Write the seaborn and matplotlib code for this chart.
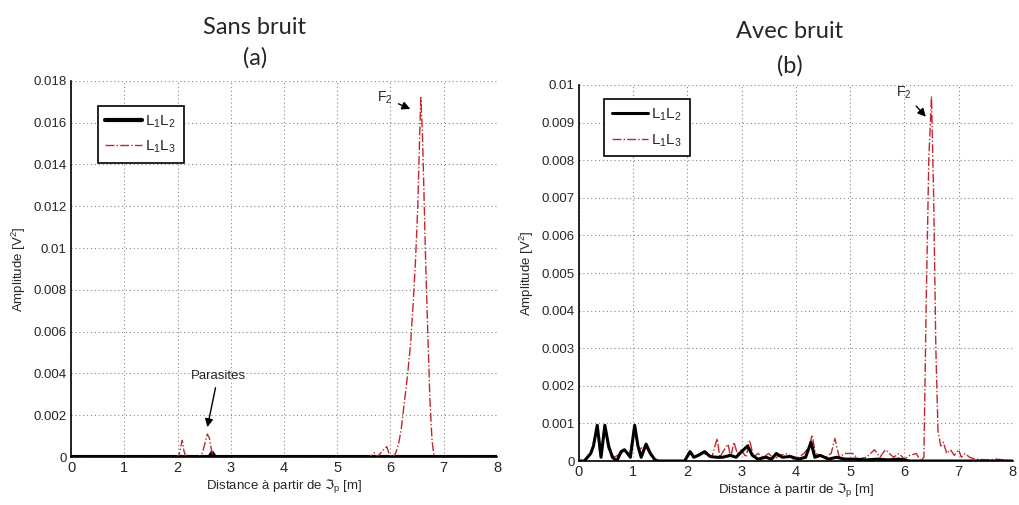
import numpy as np
import pandas as pd
import matplotlib
matplotlib.use("Agg")
import matplotlib.pyplot as plt
import seaborn as sns

# ---- (a) sans bruit ----
xa_12 = [0.0, 1.0, 2.0, 2.6, 2.65, 2.7, 3.0, 4.0, 5.0, 6.0, 7.0, 8.0]
ya_12 = [0.0, 0.0, 0.0, 0.0, 0.0002, 0.0, 0.0, 0.0, 0.0, 0.0, 0.0, 0.0]

xa_13 = [0.0, 1.0, 2.0, 2.03, 2.06, 2.09, 2.12, 2.16, 2.4, 2.47, 2.52, 2.56, 2.6,
         2.64, 2.68, 3.0, 4.0, 5.0, 5.6, 5.7, 5.75, 5.85, 5.93, 5.98, 6.05,
         6.1, 6.15, 6.2, 6.26, 6.32, 6.38, 6.43, 6.47, 6.51, 6.55, 6.57, 6.6,
         6.63, 6.66, 6.7, 6.74, 6.78, 6.82, 7.0, 7.5, 8.0]
ya_13 = [0.0, 0.0, 0.0, 0.0001, 0.0005, 0.0008, 0.0003, 0.0, 0.0, 0.0002, 0.0007, 0.0011,
         0.0009, 0.0003, 0.0, 0.0, 0.0, 0.0, 0.0, 0.0002, 0.0, 0.0003, 0.0005, 0.0001, 0.0,
         0.0002, 0.0006, 0.0013, 0.0026, 0.0039, 0.0055, 0.0075, 0.0094, 0.0118, 0.0155, 0.0172,
         0.0155, 0.0125, 0.0094, 0.006, 0.0028, 0.0008, 0.0, 0.0, 0.0, 0.0]

# ---- (b) avec bruit ----
xb_12 = [0.0, 0.1, 0.22, 0.27, 0.34, 0.41, 0.48, 0.55, 0.62, 0.7, 0.78, 0.84, 0.9, 0.95,
         1.03, 1.09, 1.15, 1.24, 1.32, 1.42, 1.6, 1.95, 2.05, 2.12, 2.2, 2.32, 2.42,
         2.54, 2.65, 2.79, 2.9, 3.0, 3.11, 3.2, 3.3, 3.45, 3.55, 3.64, 3.75, 3.9, 4.05,
         4.18, 4.28, 4.35, 4.45, 4.6, 4.75, 4.9, 5.1, 5.3, 5.5, 5.7, 5.9, 6.1, 6.4,
         6.6, 7.0, 7.5, 8.0]
yb_12 = [0.0, 0.0, 0.0002, 0.0004, 0.00095, 0.0001, 0.00095, 0.0004, 0.0001, 0.0,
         0.00025, 0.0003, 0.0002, 0.0001, 0.00095, 0.0004, 0.0001, 0.00045, 0.0002, 0.0,
         0.0, 0.0, 0.00025, 0.0001, 0.00015, 0.00025, 0.00012, 0.0001, 0.0001, 0.00015,
         0.0001, 0.00025, 0.0004, 0.00015, 0.00005, 0.0001, 0.00005, 0.0002, 0.0001,
         0.00012, 0.00005, 0.0001, 0.0005, 0.0001, 0.00015, 0.00005, 0.0001, 0.00005,
         0.00005, 0.00003, 0.00005, 0.00003, 0.00005, 0.0, 0.0, 0.0, 0.0, 0.0, 0.0]

xb_13 = [0.0, 0.1, 0.22, 0.28, 0.33, 0.4, 0.47, 0.55, 0.65, 0.78, 0.85, 0.93, 1.02,
         1.1, 1.22, 1.35, 1.5, 1.95, 2.05, 2.15, 2.3, 2.45, 2.55, 2.6, 2.68, 2.75,
         2.8, 2.86, 2.92, 3.0, 3.08, 3.15, 3.22, 3.3, 3.4, 3.5, 3.6, 3.7, 3.85, 3.95,
         4.05, 4.15, 4.25, 4.3, 4.36, 4.45, 4.55, 4.65, 4.72, 4.8, 4.9, 5.05, 5.15,
         5.3, 5.45, 5.55, 5.65, 5.8, 5.9, 6.0, 6.1, 6.22, 6.3, 6.36, 6.4, 6.45, 6.5,
         6.54, 6.58, 6.62, 6.67, 6.72, 6.78, 6.85, 6.92, 7.0, 7.05, 7.12, 7.2, 7.3,
         7.5, 7.7, 8.0]
yb_13 = [0.0, 0.0, 0.0002, 0.0005, 0.0009, 0.0001, 0.0009, 0.0003, 0.0001, 0.0002,
         0.0003, 0.0001, 0.0009, 0.0003, 0.0004, 0.0001, 0.0, 0.0, 0.0002, 0.0001,
         0.0002, 0.0001, 0.0006, 0.0001, 0.0003, 0.00045, 0.0001, 0.0005, 0.0002,
         0.0003, 0.0001, 0.00055, 0.0001, 0.0002, 0.0001, 0.0002, 0.00005, 0.00015,
         0.0002, 0.00005, 0.0001, 0.0002, 0.0004, 0.0007, 0.0002, 0.00015, 0.0001,
         0.0002, 0.0006, 0.0001, 0.0002, 0.0002, 0.00005, 0.0001, 0.0003, 0.0001,
         0.0003, 0.0001, 0.0002, 0.00005, 0.00015, 0.0002, 0.0, 0.0001, 0.004, 0.008,
         0.0097, 0.007, 0.003, 0.0008, 0.0004, 0.0005, 0.0002, 0.0003, 0.00015, 0.0003,
         0.0001, 0.0002, 0.0001, 0.00005, 0.00003, 0.00005, 0.0]

label_12 = r"$\mathregular{L_1L_2}$"
label_13 = r"$\mathregular{L_1L_3}$"
xlabel = r"Distance à partir de $\Im_{\mathregular{p}}$ [m]"
ylabel = r"Amplitude [V$^2$]"

sns.set_style("white")
plt.rcParams["font.family"] = ["Liberation Sans", "DejaVu Sans"]
plt.rcParams["mathtext.fontset"] = "custom"
plt.rcParams["mathtext.rm"] = "Liberation Sans"

fig = plt.figure(figsize=(10.19, 5.05), dpi=100)
ax_a = fig.add_axes([0.0697, 0.095, 0.418, 0.745])
ax_b = fig.add_axes([0.568, 0.0871, 0.426, 0.7446])

df_a12 = pd.DataFrame({"x": xa_12, "y": ya_12})
df_a13 = pd.DataFrame({"x": xa_13, "y": ya_13})
df_b12 = pd.DataFrame({"x": xb_12, "y": yb_12})
df_b13 = pd.DataFrame({"x": xb_13, "y": yb_13})

sns.lineplot(data=df_a12, x="x", y="y", ax=ax_a, color="black", lw=3, sort=False, label=label_12)
sns.lineplot(data=df_a13, x="x", y="y", ax=ax_a, color="#c0282d", lw=1, ls="-.", sort=False, label=label_13)
sns.lineplot(data=df_b13, x="x", y="y", ax=ax_b, color="#c0282d", lw=1, ls="-.", sort=False, label=label_13)
sns.lineplot(data=df_b12, x="x", y="y", ax=ax_b, color="black", lw=2.2, sort=False, label=label_12)

for ax, ymax, ystep in [(ax_a, 0.018, 0.002), (ax_b, 0.01, 0.001)]:
    ax.set_xlim(0, 8)
    ax.set_ylim(0, ymax)
    ax.set_xticks(np.arange(0, 9, 1))
    ax.set_yticks(np.round(np.arange(0, ymax + ystep / 2, ystep), 4))
    ax.set_yticklabels(["0" if v == 0 else f"{v:g}" for v in ax.get_yticks()], fontsize=9.5)
    ax.set_xticklabels([str(i) for i in range(9)], fontsize=10.5)
    ax.grid(True, ls=(0, (1, 2.5)), color="#888888", lw=0.8)
    ax.tick_params(direction="in", length=3, color="black", pad=3)
    for s in ["top", "right"]:
        ax.spines[s].set_visible(False)
    for s in ["left", "bottom"]:
        ax.spines[s].set_color("black")
        ax.spines[s].set_linewidth(1.2)
    ax.set_xlabel(xlabel, fontsize=9.5, labelpad=2)
    ax.set_ylabel(ylabel, fontsize=9.5, labelpad=4)

leg_kw = dict(loc="upper left", fontsize=11, frameon=True, fancybox=False, edgecolor="black",
              framealpha=1, handlelength=2.4, borderpad=0.5, labelspacing=0.6,
              handletextpad=0.2, borderaxespad=0)
h, l = ax_a.get_legend_handles_labels()
ax_a.legend(h, l, bbox_to_anchor=(0.063, 0.934), **leg_kw)
h, l = ax_b.get_legend_handles_labels()
ax_b.legend(h[::-1], l[::-1], bbox_to_anchor=(0.058, 0.963), **leg_kw)
for lg in [ax_a.get_legend(), ax_b.get_legend()]:
    lg.get_frame().set_linewidth(1.2)

ax_a.annotate(r"F$_2$", xy=(6.42, 0.0166), xytext=(5.75, 0.0170), fontsize=10,
              arrowprops=dict(arrowstyle="-|>", color="black", lw=1, mutation_scale=12))
ax_a.annotate("Parasites", xy=(2.55, 0.0013), xytext=(2.76, 0.0036), fontsize=9.5,
              ha="center", va="bottom",
              arrowprops=dict(arrowstyle="-|>", color="black", lw=1, mutation_scale=12))
ax_b.annotate(r"F$_2$", xy=(6.43, 0.0091), xytext=(5.85, 0.0097), fontsize=10,
              arrowprops=dict(arrowstyle="-|>", color="black", lw=1, mutation_scale=12))

fig.text(0.250, 1 - 28 / 505, "Sans bruit", ha="center", va="center", fontsize=17, family="Lato")
fig.text(0.250, 1 - 58 / 505, "(a)", ha="center", va="center", fontsize=17, family="Lato")
fig.text(0.775, 1 - 32 / 505, "Avec bruit", ha="center", va="center", fontsize=17, family="Lato")
fig.text(0.775, 1 - 66 / 505, "(b)", ha="center", va="center", fontsize=17, family="Lato")

fig.savefig("out.png", dpi=100)
